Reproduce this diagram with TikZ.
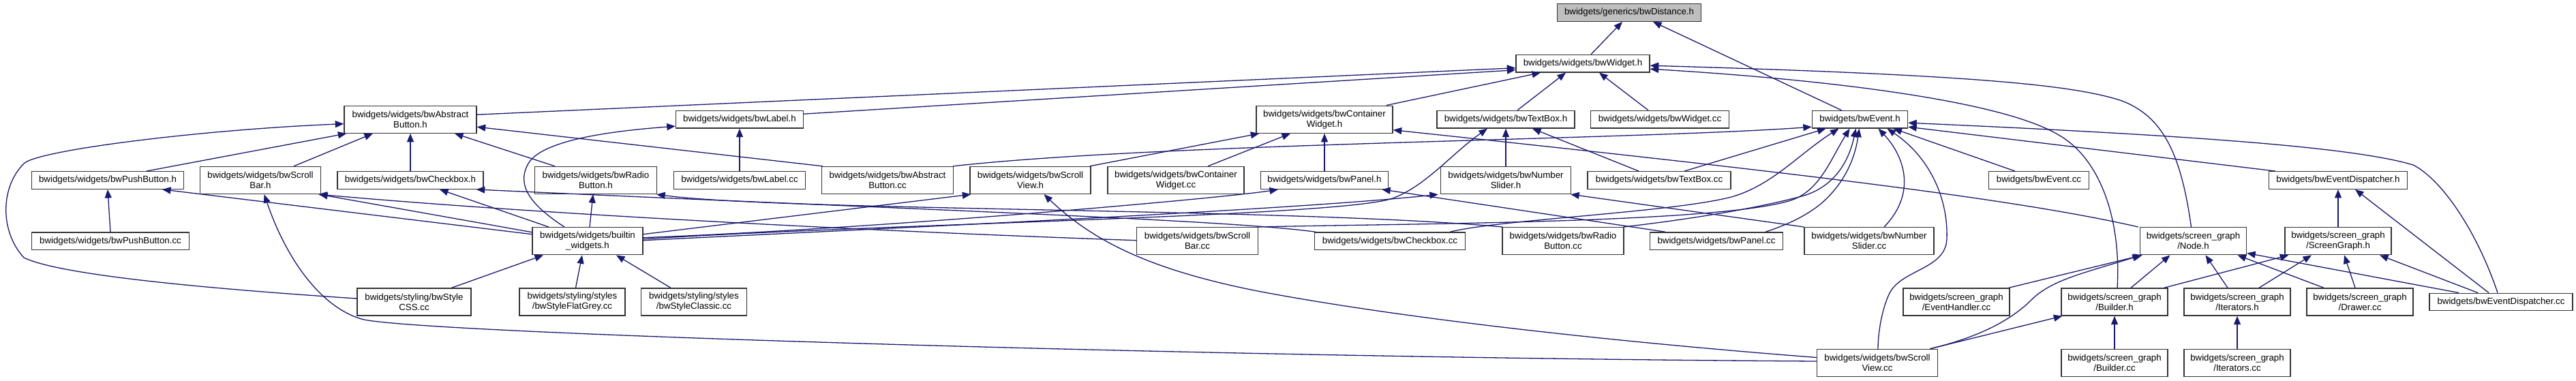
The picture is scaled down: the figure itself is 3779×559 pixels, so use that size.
\documentclass[tikz,border=0pt]{standalone}
\usepackage{fontspec}
\newfontfamily\doxfont{Liberation Sans}
\usetikzlibrary{arrows.meta}
\definecolor{edgeblue}{HTML}{191970}
\definecolor{rootgray}{HTML}{BFBFBF}
\tikzset{
  nd/.style={draw=black!80, line width=1.4pt, fill=white, inner sep=0pt, align=center,
    font=\doxfont\fontsize{13.3}{15}\selectfont, minimum height=25.5pt},
  ndd/.style={nd, minimum height=40pt},
  ed/.style={draw=edgeblue, line width=1.3pt, -{Triangle[length=12.5pt,width=10pt]}},
  der/.style={draw=edgeblue, line width=1.3pt, {Triangle[length=12.5pt,width=10pt]}-}
}
\begin{document}
\begin{tikzpicture}[x=1pt,y=-1pt]
\useasboundingbox (0,0) rectangle (3779,559);
\fill[white] (0,0) rectangle (3779,559);
% row 0
\node[nd, fill=rootgray, minimum width=211pt] (dist) at (2390,18.5) {bwidgets/generics/bwDistance.h};
% row 1
\node[nd, minimum width=196pt] (widgeth) at (2322,93.2) {bwidgets/widgets/bwWidget.h};
% row 2
\node[ndd, minimum width=194pt] (absbh) at (602,175.2) {bwidgets/widgets/bwAbstract\\Button.h};
\node[nd, minimum width=187pt] (labelh) at (1085,175.2) {bwidgets/widgets/bwLabel.h};
\node[ndd, minimum width=200pt] (contwh) at (1943,175.2) {bwidgets/widgets/bwContainer\\Widget.h};
\node[nd, minimum width=202pt] (textboxh) at (2209,175.2) {bwidgets/widgets/bwTextBox.h};
\node[nd, minimum width=203pt] (widgetcc) at (2435,175.2) {bwidgets/widgets/bwWidget.cc};
\node[nd, minimum width=140pt] (eventh) at (2728.5,175.2) {bwidgets/bwEvent.h};
% row 3
\node[nd, minimum width=223pt] (pushbh) at (158,264.5) {bwidgets/widgets/bwPushButton.h};
\node[ndd, minimum width=177pt] (scrollbarh) at (382,264.5) {bwidgets/widgets/bwScroll\\Bar.h};
\node[nd, minimum width=214pt] (checkboxh) at (602,264.5) {bwidgets/widgets/bwCheckbox.h};
\node[ndd, minimum width=179pt] (radiobh) at (874,264.5) {bwidgets/widgets/bwRadio\\Button.h};
\node[nd, minimum width=193pt] (labelcc) at (1085,264.5) {bwidgets/widgets/bwLabel.cc};
\node[ndd, minimum width=193pt] (absbcc) at (1302,264.5) {bwidgets/widgets/bwAbstract\\Button.cc};
\node[ndd, minimum width=177pt] (scrollviewh) at (1511.5,264.5) {bwidgets/widgets/bwScroll\\View.h};
\node[ndd, minimum width=200pt] (contwcc) at (1725,264.5) {bwidgets/widgets/bwContainer\\Widget.cc};
\node[nd, minimum width=187pt] (panelh) at (1943,264.5) {bwidgets/widgets/bwPanel.h};
\node[ndd, minimum width=191pt] (numsliderh) at (2209,264.5) {bwidgets/widgets/bwNumber\\Slider.h};
\node[nd, minimum width=210pt] (textboxcc) at (2434,264.5) {bwidgets/widgets/bwTextBox.cc};
\node[nd, minimum width=147pt] (eventcc) at (2991,264.5) {bwidgets/bwEvent.cc};
\node[nd, minimum width=203pt] (evdisph) at (3430,264.5) {bwidgets/bwEventDispatcher.h};
% row 4
\node[nd, minimum width=231pt] (pushbcc) at (162,353.7) {bwidgets/widgets/bwPushButton.cc};
\node[ndd, minimum width=162pt] (builtin) at (862,353.7) {bwidgets/widgets/builtin\\\_widgets.h};
\node[ndd, minimum width=178pt] (scrollbarcc) at (1756.5,353.7) {bwidgets/widgets/bwScroll\\Bar.cc};
\node[nd, minimum width=221pt] (checkboxcc) at (2039,353.7) {bwidgets/widgets/bwCheckbox.cc};
\node[ndd, minimum width=178pt] (radiobcc) at (2293,353.7) {bwidgets/widgets/bwRadio\\Button.cc};
\node[nd, minimum width=195pt] (panelcc) at (2518,353.7) {bwidgets/widgets/bwPanel.cc};
\node[ndd, minimum width=190pt] (numslidercc) at (2742,353.7) {bwidgets/widgets/bwNumber\\Slider.cc};
\node[ndd, minimum width=156pt] (nodeh) at (3217.5,353.7) {bwidgets/screen\_graph\\/Node.h};
\node[ndd, minimum width=156pt] (screengraphh) at (3430,353.7) {bwidgets/screen\_graph\\/ScreenGraph.h};
% row 5
\node[ndd, minimum width=167pt] (stylecss) at (607.5,443) {bwidgets/styling/bwStyle\\CSS.cc};
\node[ndd, minimum width=155pt] (styleflat) at (839.5,443) {bwidgets/styling/styles\\/bwStyleFlatGrey.cc};
\node[ndd, minimum width=155pt] (styleclassic) at (1018,443) {bwidgets/styling/styles\\/bwStyleClassic.cc};
\node[ndd, minimum width=156pt] (evhandler) at (2870,443) {bwidgets/screen\_graph\\/EventHandler.cc};
\node[ndd, minimum width=156pt] (builderh) at (3102,443) {bwidgets/screen\_graph\\/Builder.h};
\node[ndd, minimum width=156pt] (iteratorsh) at (3282,443) {bwidgets/screen\_graph\\/Iterators.h};
\node[ndd, minimum width=156pt] (drawercc) at (3462,443) {bwidgets/screen\_graph\\/Drawer.cc};
\node[nd, minimum width=210pt] (evdispcc) at (3669,443) {bwidgets/bwEventDispatcher.cc};
% row 6
\node[ndd, minimum width=177pt] (scrollviewcc) at (2754,532.5) {bwidgets/widgets/bwScroll\\View.cc};
\node[ndd, minimum width=156pt] (buildercc) at (3102,532.5) {bwidgets/screen\_graph\\/Builder.cc};
\node[ndd, minimum width=156pt] (iteratorscc) at (3282,532.5) {bwidgets/screen\_graph\\/Iterators.cc};

% ---------- straight edges ----------
\draw[ed] ([xshift=12]widgeth.north) -- ([xshift=-10]dist.south);
\draw[ed] ([xshift=-27]eventh.north) -- ([xshift=35]dist.south);
\draw[ed] ([yshift=7]absbh.east) -- ([yshift=-6.5]widgeth.west);
\draw[ed] ([yshift=8]labelh.east) -- ([yshift=-9.5]widgeth.west);
\draw[ed] ([xshift=91]contwh.north) -- ([xshift=-62]widgeth.south);
\draw[ed] ([xshift=17]textboxh.north) -- ([xshift=-25]widgeth.south);
\draw[ed] ([xshift=-17]widgetcc.north) -- ([xshift=24]widgeth.south);
\draw[ed] ([xshift=57]pushbh.north) -- ([xshift=4]absbh.south west);
\draw[ed] ([xshift=49]scrollbarh.north) -- ([xshift=-55]absbh.south);
\draw[ed] (checkboxh.north) -- (absbh.south);
\draw[ed] ([xshift=-60]radiobh.north) -- ([xshift=65]absbh.south);
\draw[ed] ([xshift=2]absbcc.north west) -- ([yshift=-11]absbh.east);
\draw[ed] (labelcc.north) -- (labelh.south);
\draw[ed] (pushbcc.north) -- (pushbh.south);
\draw[ed] ([yshift=10]builtin.west) -- ([xshift=80]pushbh.south);
\draw[ed] ([yshift=13]builtin.west) -- ([xshift=-3]scrollbarh.south east);
\draw[ed] ([xshift=-57]builtin.north) -- ([xshift=43]checkboxh.south);
\draw[ed] ([xshift=3]builtin.north) -- ([xshift=-4]radiobh.south);
\draw[ed] ([yshift=10]builtin.east) -- ([xshift=2]scrollviewh.south west);
\draw[ed] ([xshift=55]stylecss.north) -- ([xshift=-65]builtin.south);
\draw[ed] ([xshift=5]styleflat.north) -- ([xshift=-8]builtin.south);
\draw[ed] ([xshift=-34]styleclassic.north) -- ([xshift=42]builtin.south);
\draw[ed] ([xshift=-2]scrollviewh.north east) -- ([xshift=5]contwh.south west);
\draw[ed] ([xshift=47]contwcc.north) -- ([xshift=-50]contwh.south);
\draw[ed] (panelh.north) -- (contwh.south);
\draw[ed] (numsliderh.north) -- (textboxh.south);
\draw[ed] ([xshift=-30]textboxcc.north) -- ([xshift=39]textboxh.south);
\draw[ed] ([xshift=-75]panelcc.north) -- ([xshift=-10]panelh.south east);
\draw[ed] (numslidercc.north west) -- ([xshift=-1]numsliderh.south east);
\draw[ed] ([xshift=37]textboxcc.north) -- ([xshift=-50]eventh.south);
\draw[ed] ([xshift=-35]eventcc.north) -- ([xshift=49]eventh.south);
\draw[ed] ([xshift=10]evdisph.north west) -- ([yshift=-11]eventh.east);
\draw[ed] ([xshift=-2]evhandler.north east) -- ([xshift=4]nodeh.south west);
\draw[ed] ([xshift=24]builderh.north) -- ([xshift=-34]nodeh.south);
\draw[ed] ([xshift=-14]iteratorsh.north) -- ([xshift=18]nodeh.south);
\draw[ed] ([xshift=-53]drawercc.north) -- ([xshift=65]nodeh.south);
\draw[ed] ([xshift=-62]evdispcc.north) -- ([yshift=3]nodeh.south east);
\draw[ed] ([xshift=-6]builderh.north east) -- ([xshift=6]screengraphh.south west);
\draw[ed] ([xshift=32]iteratorsh.north) -- ([xshift=-39]screengraphh.south);
\draw[ed] ([xshift=-7]drawercc.north) -- ([xshift=9]screengraphh.south);
\draw[ed] ([xshift=-34]evdispcc.north) -- ([xshift=61]screengraphh.south);
\draw[ed] (screengraphh.north) -- (evdisph.south);
\draw[ed] ([xshift=-18]evdispcc.north) -- ([xshift=25]evdisph.south);
\draw[ed] (buildercc.north) -- (builderh.south);
\draw[ed] ([xshift=-12]scrollviewcc.north east) -- ([xshift=2]builderh.south west);
\draw[ed] (iteratorscc.north) -- (iteratorsh.south);

% ---------- curved edges (drawn from the included file) ----------
\draw[der] ([yshift=-3]widgeth.east) .. controls (2900,110) and (3040,125) .. (3110,147)
  .. controls (3175,170) and (3200,230) .. ([xshift=-3]nodeh.north);
\draw[der] ([yshift=-8]widgeth.east) .. controls (2700,118) and (2940,150) .. (3020,198)
  .. controls (3080,232) and (3112,320) .. ([xshift=4]builderh.north);
\draw[der] ([yshift=-6.5]absbh.west) .. controls (300,190) and (55,220) .. (35,240)
  .. controls (0,275) and (0,340) .. (35,378)
  .. controls (80,400) and (250,420) .. ([yshift=5]stylecss.west);
\draw[der] ([yshift=-10]labelh.west) .. controls (900,192) and (795,205) .. (775,240)
  .. controls (755,275) and (785,305) .. ([xshift=-34]builtin.north);
\draw[der] ([xshift=5.6]scrollbarh.south) .. controls (420,380) and (470,450) .. (530,468)
  .. controls (600,489) and (1800,525) .. ([yshift=2.5]scrollviewcc.west);
\draw[der] ([xshift=20]scrollviewh.south) .. controls (1600,350) and (1680,395) .. (1850,428)
  .. controls (2100,475) and (2450,508) .. ([yshift=8]scrollviewcc.west);
\draw[der] ([xshift=-68]panelh.south) .. controls (1800,290) and (1300,335) .. ([yshift=5]builtin.east);
\draw[der] ([xshift=-27]textboxh.south) .. controls (2130,225) and (2090,275) .. (2040,292)
  .. controls (1950,318) and (1300,328) .. ([yshift=3]builtin.east);
\draw[der] ([xshift=-3]numsliderh.south west) .. controls (1900,308) and (1300,335) .. ([yshift=1]builtin.east);
\draw[der] ([xshift=-4]scrollbarh.south east) .. controls (800,315) and (1300,340) .. ([yshift=1]scrollbarcc.west);
\draw[der] ([xshift=-11]checkboxh.south east) .. controls (1300,306) and (1800,322) .. ([xshift=2]checkboxcc.north west);
\draw[der] ([xshift=-1]radiobh.south east) .. controls (1150,310) and (1900,305) .. ([xshift=1]radiobcc.north west);
\draw[der] ([yshift=-11]eventh.west) .. controls (2400,205) and (1700,210) .. ([xshift=-1]absbcc.north east);
\draw[der] ([xshift=-31]eventh.south) .. controls (2640,225) and (2600,272) .. (2540,289)
  .. controls (2450,312) and (2200,322) .. ([xshift=-23]checkboxcc.north east);
\draw[der] ([xshift=-15]eventh.south) .. controls (2685,235) and (2670,278) .. (2630,293)
  .. controls (2530,328) and (2050,328) .. ([xshift=-1]scrollbarcc.north east);
\draw[der] ([xshift=-6]eventh.south) .. controls (2712,238) and (2690,275) .. (2643,288)
  .. controls (2560,310) and (2450,325) .. ([xshift=-1]radiobcc.north east);
\draw[der] ([xshift=-1]eventh.south) .. controls (2720,240) and (2700,275) .. (2670,300)
  .. controls (2645,320) and (2615,332) .. ([xshift=72]panelcc.north);
\draw[der] ([xshift=27]eventh.south) .. controls (2790,225) and (2815,280) .. ([xshift=22]numslidercc.north);
\draw[der] ([xshift=40]eventh.south) .. controls (2830,230) and (2858,290) .. (2856,350)
  .. controls (2855,395) and (2790,395) .. (2772,430)
  .. controls (2760,455) and (2755,490) .. ([xshift=1]scrollviewcc.north);
\draw[der] ([yshift=-5]eventh.east) .. controls (3200,198) and (3450,215) .. (3540,242)
  .. controls (3580,262) and (3632,335) .. ([xshift=-5]evdispcc.north);
\draw[der] ([yshift=-15.5]contwh.east) .. controls (2600,250) and (2950,290) .. ([xshift=-2]nodeh.north west);
\draw[der] ([xshift=2]nodeh.south west) .. controls (3060,400) and (3010,410) .. (2980,440)
  .. controls (2940,480) and (2880,500) .. ([xshift=-12]scrollviewcc.north east);
\end{tikzpicture}
\end{document}
